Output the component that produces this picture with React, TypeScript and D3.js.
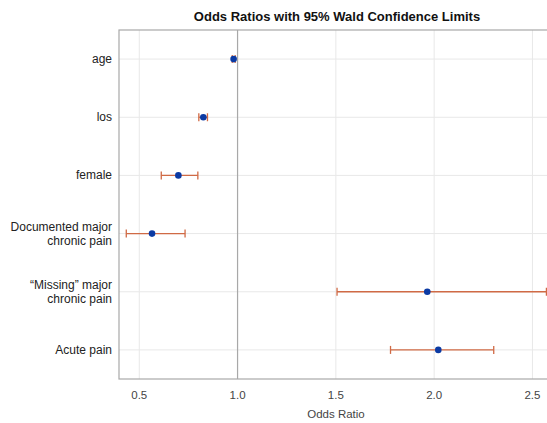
import React from 'react';
import * as d3 from 'd3';

const W = 547;
const H = 423;

const effects = ['age', 'los', 'female', 'Documented major|chronic pain', '\u201cMissing\u201d major|chronic pain', 'Acute pain'];
const estimates = [0.98, 0.826, 0.699, 0.565, 1.965, 2.021];
const lower = [0.973, 0.803, 0.612, 0.434, 1.506, 1.778];
const upper = [0.988, 0.847, 0.798, 0.733, 2.571, 2.303];
const ticks = [0.5, 1.0, 1.5, 2.0, 2.5];

const margin = {top: 30, left: 119, bottom: 379, right: 548};
const font = 'Arial, "Liberation Sans", sans-serif';

export default function App() {
  const x = d3.scaleLinear().domain([0.397, 2.579]).range([margin.left, margin.right]);
  const y = d3.scaleBand().domain(effects).range([margin.top, margin.bottom]).padding(0);
  const cy = (e: string) => (y(e) as number) + y.bandwidth() / 2;
  const cap = 4;

  return (
    <svg width={W} height={H} style={{position: 'absolute', left: 0, top: 0, background: '#fff'}}>
      <text x={337} y={21} textAnchor="middle" fontFamily={font} fontWeight="bold" fontSize={13} fill="#111">
        Odds Ratios with 95% Wald Confidence Limits
      </text>
      {/* grid */}
      {ticks.map(t => (
        <line key={'gx' + t} x1={x(t)} x2={x(t)} y1={margin.top} y2={margin.bottom} stroke="#e8e8e8" />
      ))}
      {effects.map(e => (
        <line key={'gy' + e} x1={margin.left} x2={margin.right} y1={cy(e)} y2={cy(e)} stroke="#e8e8e8" />
      ))}
      {/* reference line */}
      <line x1={x(1)} x2={x(1)} y1={margin.top} y2={margin.bottom} stroke="#a8a8a8" strokeWidth={1.2} />
      {/* frame */}
      <rect x={margin.left} y={margin.top} width={margin.right - margin.left} height={margin.bottom - margin.top}
        fill="none" stroke="#a8a8a8" strokeWidth={1.2} />
      {/* CIs */}
      {effects.map((e, i) => (
        <g key={'ci' + e} stroke="#d06a45" strokeWidth={1.3}>
          <line x1={x(lower[i])} x2={x(upper[i])} y1={cy(e)} y2={cy(e)} />
          <line x1={x(lower[i])} x2={x(lower[i])} y1={cy(e) - cap} y2={cy(e) + cap} />
          <line x1={x(upper[i])} x2={x(upper[i])} y1={cy(e) - cap} y2={cy(e) + cap} />
        </g>
      ))}
      {effects.map((e, i) => (
        <circle key={'pt' + e} cx={x(estimates[i])} cy={cy(e)} r={3.3} fill="#0b3aa3" />
      ))}
      {/* y labels */}
      {effects.map(e => {
        const lines = e.split('|');
        return (
          <text key={'yl' + e} x={112} y={cy(e)} textAnchor="end" fontFamily={font} fontSize={12} fill="#222">
            {lines.map((l, k) => (
              <tspan key={k} x={112} dy={k === 0 ? (lines.length === 1 ? 4 : -3) : 14}>{l}</tspan>
            ))}
          </text>
        );
      })}
      {/* x ticks */}
      {ticks.map(t => (
        <text key={'xt' + t} x={x(t)} y={399} textAnchor="middle" fontFamily={font} fontSize={11.5} fill="#444">
          {d3.format('.1f')(t)}
        </text>
      ))}
      <text x={336} y={418} textAnchor="middle" fontFamily={font} fontSize={11.5} fill="#444">Odds Ratio</text>
    </svg>
  );
}
